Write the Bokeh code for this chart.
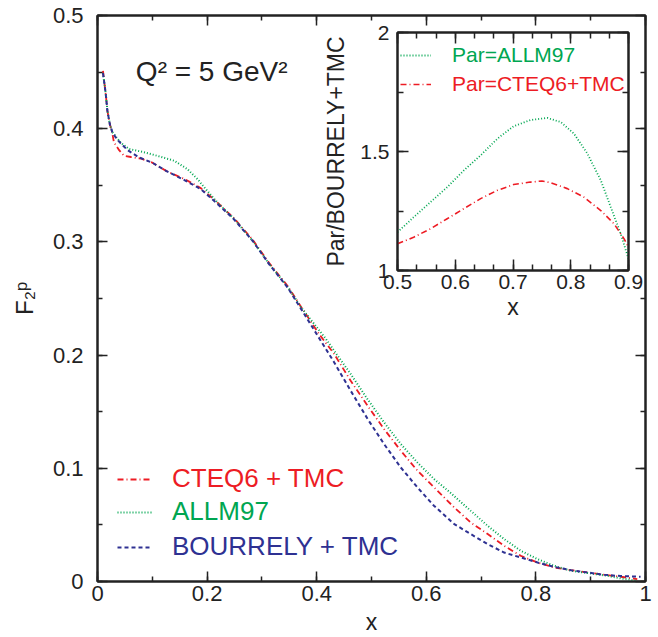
import math
from bokeh.plotting import figure
from bokeh.models import (Range1d, SingleIntervalTicker, LinearAxis, Label,
                          Legend, LegendItem, CustomJSTickFormatter)
from bokeh.embed import file_html
from bokeh.resources import INLINE

# ---------------- data ----------------
bourrely_x = [0.010, 0.015, 0.018, 0.0225, 0.027, 0.035, 0.0425, 0.055, 0.076, 0.100,
              0.125, 0.161, 0.1885, 0.216, 0.249, 0.283, 0.313, 0.347, 0.377, 0.4075,
              0.432, 0.462, 0.493, 0.523, 0.5535, 0.584, 0.614, 0.651, 0.681, 0.712,
              0.742, 0.7725, 0.803, 0.833, 0.864, 0.894, 0.9245, 0.955, 0.991]
bourrely_y = [0.449, 0.431, 0.416, 0.404, 0.397, 0.391, 0.387, 0.381, 0.3746, 0.370,
              0.3628, 0.354, 0.3466, 0.3348, 0.320, 0.301, 0.2804, 0.2597, 0.2365, 0.2126,
              0.1935, 0.1685, 0.1435, 0.1214, 0.1007, 0.083, 0.0669, 0.0507, 0.0419, 0.033,
              0.0256, 0.0212, 0.0168, 0.013, 0.010, 0.008, 0.0059, 0.0048, 0.0042]

cteq_x = [0.010, 0.015, 0.018, 0.0225, 0.027, 0.030, 0.0395, 0.0486, 0.061, 0.080,
          0.100, 0.125, 0.161, 0.1885, 0.216, 0.249, 0.283, 0.313, 0.347, 0.371,
          0.4044, 0.432, 0.462, 0.493, 0.523, 0.5535, 0.584, 0.6265, 0.651, 0.681,
          0.712, 0.742, 0.7725, 0.803, 0.833, 0.864, 0.894, 0.9245, 0.955, 0.985]
cteq_y = [0.451, 0.431, 0.416, 0.404, 0.396, 0.388, 0.381, 0.376, 0.375, 0.3735,
          0.370, 0.3628, 0.355, 0.3475, 0.336, 0.321, 0.302, 0.2815, 0.261, 0.243,
          0.2186, 0.2009, 0.1773, 0.1552, 0.1346, 0.1155, 0.0978, 0.0772, 0.0654, 0.0521,
          0.0419, 0.0315, 0.0227, 0.0168, 0.0124, 0.010, 0.008, 0.006, 0.0042, 0.0021]

allm_x = [0.010, 0.015, 0.018, 0.0225, 0.027, 0.0425, 0.058, 0.079, 0.1095, 0.140,
          0.164, 0.1825, 0.1976, 0.216, 0.231, 0.249, 0.283, 0.313, 0.347, 0.371,
          0.4166, 0.4318, 0.4622, 0.4927, 0.523, 0.5535, 0.584, 0.6142, 0.645, 0.681,
          0.712, 0.742, 0.7725, 0.803, 0.833, 0.864, 0.894, 0.931, 0.955, 0.985]
allm_y = [0.449, 0.431, 0.416, 0.404, 0.397, 0.3875, 0.382, 0.3799, 0.376, 0.3717,
          0.3643, 0.3555, 0.3466, 0.3363, 0.329, 0.3205, 0.301, 0.2808, 0.2602, 0.2425,
          0.2145, 0.2038, 0.1832, 0.1611, 0.1405, 0.1214, 0.105, 0.0905, 0.078, 0.0625,
          0.0492, 0.0375, 0.0271, 0.0198, 0.0139, 0.0095, 0.0075, 0.005, 0.0027, 0.0006]

ratio_allm_x = [0.500, 0.528, 0.557, 0.586, 0.615, 0.644, 0.673, 0.701, 0.730, 0.7594,
                0.7825, 0.8056, 0.8288, 0.852, 0.8693, 0.8866, 0.900]
ratio_allm_y = [1.161, 1.224, 1.287, 1.350, 1.421, 1.484, 1.554, 1.606, 1.632, 1.641,
                1.624, 1.575, 1.491, 1.379, 1.266, 1.154, 1.049]

ratio_cteq_x = [0.500, 0.528, 0.557, 0.586, 0.615, 0.644, 0.673, 0.701, 0.730, 0.750,
                0.765, 0.794, 0.823, 0.852, 0.875, 0.8924, 0.900]
ratio_cteq_y = [1.112, 1.140, 1.175, 1.2175, 1.260, 1.302, 1.337, 1.361, 1.3715, 1.376,
                1.369, 1.344, 1.308, 1.252, 1.196, 1.133, 1.098]

legend_main = ["CTEQ6 + TMC", "ALLM97", "BOURRELY + TMC"]
legend_inset = ["Par=ALLM97", "Par=CTEQ6+TMC"]

# ---------------- style ----------------
FONT = "Liberation Sans"
INK = "#222222"
RED = "#ED1C24"
GREEN = "#00A651"
BLUE = "#2E3192"
DASH_RED = "6 3 1 3"
DASH_GREEN = "1 2"
DASH_BLUE = "4 3"

fmt_code = "return String(Math.round(tick*1000)/1000);"


def style_axis(ax, size, standoff, labels=True, tick_in=10, minor_in=5):
    ax.axis_line_color = INK
    ax.axis_line_width = 2
    ax.major_tick_in = tick_in
    ax.major_tick_out = 0
    ax.minor_tick_in = minor_in
    ax.minor_tick_out = 0
    ax.major_tick_line_color = INK
    ax.minor_tick_line_color = INK
    ax.major_tick_line_width = 1.5
    ax.minor_tick_line_width = 1.5
    ax.major_label_text_font = FONT
    ax.major_label_text_color = INK
    if labels:
        ax.formatter = CustomJSTickFormatter(code=fmt_code)
        ax.major_label_text_font_size = size
        ax.major_label_standoff = standoff
    else:
        ax.formatter = CustomJSTickFormatter(code="return '';")
        ax.major_label_text_font_size = "1px"
        ax.major_label_standoff = 0


# ---------------- main figure ----------------
MAIN_LEFT = -12
p = figure(width=658 - MAIN_LEFT, height=637, output_backend="svg", toolbar_location=None,
           x_range=Range1d(0, 1), y_range=Range1d(0, 0.5),
           min_border_left=97 - MAIN_LEFT, min_border_right=13, min_border_top=15,
           min_border_bottom=56)
p.styles = {"position": "absolute", "left": f"{MAIN_LEFT}px", "top": "0px"}
p.grid.visible = False
p.outline_line_color = INK
p.outline_line_width = 2
p.background_fill_color = "white"
p.border_fill_color = "white"

p.xaxis.ticker = SingleIntervalTicker(interval=0.2, num_minor_ticks=2)
p.yaxis.ticker = SingleIntervalTicker(interval=0.1, num_minor_ticks=2)
style_axis(p.xaxis[0], "22px", 4)
style_axis(p.yaxis[0], "22px", 14)

p.xaxis.axis_label = "x"
p.xaxis.axis_label_text_font = FONT
p.xaxis.axis_label_text_font_size = "23px"
p.xaxis.axis_label_text_font_style = "normal"
p.xaxis.axis_label_text_color = INK
p.xaxis.axis_label_standoff = 5

p.yaxis.axis_label = "F₂ᵖ"
p.yaxis.axis_label_text_font = FONT
p.yaxis.axis_label_text_font_size = "24px"
p.yaxis.axis_label_text_font_style = "normal"
p.yaxis.axis_label_text_color = INK
p.yaxis.axis_label_standoff = 12

top_ax = LinearAxis(ticker=SingleIntervalTicker(interval=0.2, num_minor_ticks=2))
style_axis(top_ax, "1px", 0, labels=False)
p.add_layout(top_ax, "above")
right_ax = LinearAxis(ticker=SingleIntervalTicker(interval=0.1, num_minor_ticks=2))
style_axis(right_ax, "1px", 0, labels=False)
p.add_layout(right_ax, "right")

r_red = p.line(cteq_x, cteq_y, line_color=RED, line_width=1.8, line_dash=DASH_RED)
r_green = p.line(allm_x, allm_y, line_color=GREEN, line_width=2, line_dash=DASH_GREEN)
r_blue = p.line(bourrely_x, bourrely_y, line_color=BLUE, line_width=2, line_dash=DASH_BLUE)

for lab, rend, col, vy in [(legend_main[0], r_red, RED, 87),
                           (legend_main[1], r_green, GREEN, 54),
                           (legend_main[2], r_blue, BLUE, 19)]:
    lg = Legend(items=[LegendItem(label=lab, renderers=[rend])],
                location=(20, vy), padding=0, margin=0, spacing=0,
                glyph_width=35, glyph_height=30, label_height=30,
                label_standoff=20, label_text_font=FONT,
                label_text_font_size="26px", label_text_color=col,
                border_line_color=None, background_fill_alpha=0)
    p.add_layout(lg)

p.add_layout(Label(x=0.070, y=0.4505, text="Q² = 5 GeV²", text_font=FONT,
                   text_font_size="28px", text_color=INK, text_baseline="alphabetic"))

# ---------------- inset figure ----------------
INSET_LEFT = 287
q = figure(width=628 + 20 - INSET_LEFT, height=320, output_backend="svg",
           toolbar_location=None,
           x_range=Range1d(0.5, 0.9), y_range=Range1d(1, 2),
           min_border_left=397 - INSET_LEFT, min_border_right=20, min_border_top=22,
           min_border_bottom=60)
q.grid.visible = False
q.outline_line_color = INK
q.outline_line_width = 2
q.background_fill_alpha = 0
q.border_fill_alpha = 0
q.styles = {"position": "absolute", "left": f"{INSET_LEFT}px", "top": "10px"}

q.xaxis.ticker = SingleIntervalTicker(interval=0.1, num_minor_ticks=3)
q.yaxis.ticker = SingleIntervalTicker(interval=0.5, num_minor_ticks=2)
style_axis(q.xaxis[0], "21px", 4, tick_in=11, minor_in=6)
style_axis(q.yaxis[0], "21px", 8, tick_in=11, minor_in=6)
q.xaxis.axis_label = "x"
q.xaxis.axis_label_text_font = FONT
q.xaxis.axis_label_text_font_size = "23px"
q.xaxis.axis_label_text_font_style = "normal"
q.xaxis.axis_label_text_color = INK
q.xaxis.axis_label_standoff = 2
q.yaxis.axis_label = "Par/BOURRELY+TMC"
q.yaxis.axis_label_text_font = FONT
q.yaxis.axis_label_text_font_size = "23px"
q.yaxis.axis_label_text_font_style = "normal"
q.yaxis.axis_label_text_color = INK
q.yaxis.axis_label_standoff = 8

qt = LinearAxis(ticker=SingleIntervalTicker(interval=0.1, num_minor_ticks=3))
style_axis(qt, "1px", 0, labels=False, tick_in=11, minor_in=6)
q.add_layout(qt, "above")
qr = LinearAxis(ticker=SingleIntervalTicker(interval=0.5, num_minor_ticks=2))
style_axis(qr, "1px", 0, labels=False, tick_in=11, minor_in=6)
q.add_layout(qr, "right")

i_green = q.line(ratio_allm_x, ratio_allm_y, line_color=GREEN, line_width=1.8,
                 line_dash=DASH_GREEN)
i_red = q.line(ratio_cteq_x, ratio_cteq_y, line_color=RED, line_width=1.6,
               line_dash=DASH_RED)

for lab, rend, col, vy in [(legend_inset[0], i_green, GREEN, 202),
                           (legend_inset[1], i_red, RED, 173)]:
    lg = Legend(items=[LegendItem(label=lab, renderers=[rend])],
                location=(3, vy), padding=0, margin=0, spacing=0,
                glyph_width=31, glyph_height=26, label_height=26,
                label_standoff=21, label_text_font=FONT,
                label_text_font_size="21px", label_text_color=col,
                border_line_color=None, background_fill_alpha=0)
    q.add_layout(lg)

open("out.html", "w").write(file_html([p, q], INLINE))
